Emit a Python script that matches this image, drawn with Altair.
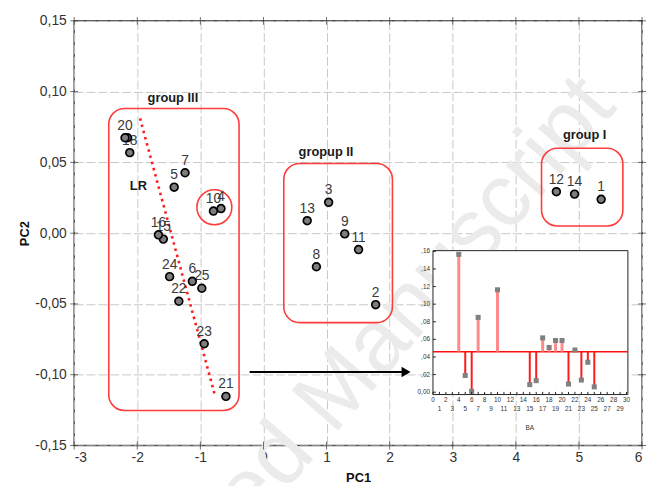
import altair as alt
import pandas as pd

# ---------------- main PCA scores ----------------
sample_ids = ["1", "2", "3", "4", "5", "6", "7", "8", "9", "10", "11", "12",
              "13", "14", "15", "16", "18", "19", "20", "21", "22", "23", "24", "25"]
# label as it can be read in the picture (the label of sample 19 is hidden under the 20 cluster)
point_labels = ["1", "2", "3", "4", "5", "6", "7", "8", "9", "10", "11", "12",
                "13", "14", "15", "16", "18", "", "20", "21", "22", "23", "24", "25"]
pc1 = [5.352, 1.778, 1.033, -0.673, -1.415, -1.127, -1.243, 0.839, 1.288, -0.793,
       1.507, 4.642, 0.693, 4.930, -1.587, -1.665, -2.119, -2.155, -2.194, -0.595,
       -1.341, -0.939, -1.487, -0.977]
pc2 = [0.0239, -0.0505, 0.0218, 0.0174, 0.0325, -0.0340, 0.0427, -0.0237, -0.0005, 0.0156,
       -0.0116, 0.0293, 0.0088, 0.0276, -0.0042, -0.0012, 0.0569, 0.0674, 0.0674, -0.1153,
       -0.0481, -0.0781, -0.0307, -0.0389]

# ---------------- annotations ----------------
group_names = ["group III", "gropup II", "group I"]
group_x1 = [-2.452, 0.322, 4.407]
group_x2 = [-0.387, 2.044, 5.696]
group_y1 = [0.0881, 0.0492, 0.0600]
group_y2 = [-0.1253, -0.0632, 0.0051]
group_label_x = [-1.435, 0.991, 5.09]
group_label_y = [0.0957, 0.0574, 0.0692]

ring_x = [-0.778]
ring_y = [0.0183]

lr_line_x = [-1.956, -0.773]
lr_line_y = [0.0811, -0.1139]
lr_text_x = [-1.983]
lr_text_y = [0.033]

arrow_x = [-0.219, 2.26]
arrow_y = [-0.0981, -0.0981]

watermark_text = ["Accepted Manuscript"]
watermark_x = [0.99]
watermark_y = [-0.1204]

x_ticks = [-3, -2, -1, 0, 1, 2, 3, 4, 5, 6]
y_ticks = [-0.15, -0.10, -0.05, 0.0, 0.05, 0.10, 0.15]

# ---------------- inset (BA) ----------------
ba_pos = [4, 5, 6, 7, 10, 15, 16, 17, 18, 19, 20, 21, 22, 23, 24, 25]
ba_val = [0.1566, 0.019, 0.001, 0.085, 0.1163, 0.0086, 0.0131, 0.0617, 0.0508, 0.0587,
          0.0587, 0.0093, 0.0479, 0.0138, 0.034, 0.006]
ba_base = 0.046
inset_x_ticks = list(range(0, 31))
inset_y_ticks = [0.0, 0.02, 0.04, 0.06, 0.08, 0.10, 0.12, 0.14, 0.16]
inset_box_x = [0.0, 30.21]
inset_box_y = [-0.0027, 0.1608]

FONT = "Liberation Sans"
W, H = 575, 430

xs = alt.Scale(domain=[-3, 6], nice=False, zero=False)
ys = alt.Scale(domain=[-0.15, 0.15], nice=False, zero=False)

xaxis = alt.Axis(
    title="PC1", values=x_ticks,
    labelExpr="(datum.value < 0 ? '-' : '') + format(abs(datum.value), 'd')",
    grid=True, gridColor="#c8c8c8", gridDash=[9, 3], gridWidth=1,
    ticks=False, domain=False, labelFont=FONT, labelFontSize=14, labelColor="#333333",
    labelPadding=5, titleFont=FONT, titleFontSize=13, titleFontWeight="bold",
    titleColor="#111111", titlePadding=7,
)
yaxis = alt.Axis(
    title="PC2", values=y_ticks,
    labelExpr="(datum.value < 0 ? '-' : '') + replace(format(abs(datum.value), '.2f'), '.', ',')",
    grid=True, gridColor="#c8c8c8", gridDash=[9, 3], gridWidth=1,
    ticks=False, domain=False, labelFont=FONT, labelFontSize=14, labelColor="#333333",
    labelPadding=8, titleFont=FONT, titleFontSize=13, titleFontWeight="bold",
    titleColor="#111111", titlePadding=3,
)


def MX(f):
    return alt.X(f, type="quantitative", scale=xs, axis=xaxis)


def MY(f):
    return alt.Y(f, type="quantitative", scale=ys, axis=yaxis)


df = pd.DataFrame({"id": sample_ids, "lab": point_labels, "pc1": pc1, "pc2": pc2})
groups = pd.DataFrame({"name": group_names, "x1": group_x1, "x2": group_x2,
                       "y1": group_y1, "y2": group_y2,
                       "lx": group_label_x, "ly": group_label_y})

watermark = alt.Chart(pd.DataFrame({"t": watermark_text, "x": watermark_x, "y": watermark_y})).mark_text(
    font=FONT, fontSize=90, color="#ebebeb", angle=311, align="center", baseline="middle"
).encode(x=MX("x"), y=MY("y"), text="t:N")

# inward frame ticks
xtk = pd.DataFrame({"v": x_ticks})
ytk = pd.DataFrame({"v": y_ticks})
tick_bottom = alt.Chart(xtk).mark_tick(orient="vertical", size=8, thickness=1, color="#333333").encode(
    x=MX("v"), y=alt.value(H))
tick_top = alt.Chart(xtk).mark_tick(orient="vertical", size=8, thickness=1, color="#333333").encode(
    x=MX("v"), y=alt.value(0))
tick_left = alt.Chart(ytk).mark_tick(orient="horizontal", size=8, thickness=1, color="#333333").encode(
    y=MY("v"), x=alt.value(0))
tick_right = alt.Chart(ytk).mark_tick(orient="horizontal", size=8, thickness=1, color="#333333").encode(
    y=MY("v"), x=alt.value(W))

group_rects = alt.Chart(groups).mark_rect(
    fillOpacity=0, stroke="#ff3b3b", strokeWidth=1.6, cornerRadius=16
).encode(x=MX("x1"), x2="x2", y=MY("y1"), y2="y2")

group_text = alt.Chart(groups).mark_text(
    font=FONT, fontSize=13, fontWeight="bold", color="#1a1a1a"
).encode(x=MX("lx"), y=MY("ly"), text="name:N")

ring = alt.Chart(pd.DataFrame({"x": ring_x, "y": ring_y})).mark_point(
    shape="circle", size=1250, filled=False, stroke="#ff3b3b", strokeWidth=1.6, opacity=1
).encode(x=MX("x"), y=MY("y"))

lr_line = alt.Chart(pd.DataFrame({"x": lr_line_x, "y": lr_line_y})).mark_line(
    color="#ff1a1a", strokeWidth=2.6, strokeDash=[2.5, 4]
).encode(x=MX("x"), y=MY("y"))

lr_text = alt.Chart(pd.DataFrame({"x": lr_text_x, "y": lr_text_y, "t": ["LR"]})).mark_text(
    font=FONT, fontSize=13, fontWeight="bold", color="#1a1a1a"
).encode(x=MX("x"), y=MY("y"), text="t:N")

arrow_line = alt.Chart(pd.DataFrame({"x": arrow_x[:1], "x2": arrow_x[1:], "y": arrow_y[:1]})).mark_rule(
    color="#000000", strokeWidth=2
).encode(x=MX("x"), x2="x2", y=MY("y"))

arrow_head = alt.Chart(pd.DataFrame({"x": arrow_x[1:], "y": arrow_y[1:]})).mark_point(
    shape="triangle-right", size=110, filled=True, color="#000000", opacity=1
).encode(x=MX("x"), y=MY("y"))

labels = alt.Chart(df).mark_text(
    font=FONT, fontSize=14, color="#3a3a3a", baseline="alphabetic", dy=-8
).encode(x=MX("pc1"), y=MY("pc2"), text="lab:N")

points = alt.Chart(df).mark_circle(
    size=62, color="#7d7d7d", opacity=1, stroke="#000000", strokeWidth=1.7
).encode(x=MX("pc1"), y=MY("pc2"), tooltip=["id:N"])

main = alt.layer(watermark, tick_bottom, tick_top, tick_left, tick_right,
                 group_rects, lr_line, ring, arrow_line, arrow_head,
                 labels, points, group_text, lr_text)

# ---------------- inset ----------------
xi = alt.Scale(domain=[0, 30], range=[363.3, 559.3], nice=False, zero=False)
yi = alt.Scale(domain=[0, 0.16], range=[376.0, 233.4], nice=False, zero=False)


def IX(f):
    return alt.X(f, type="quantitative", scale=xi, axis=None)


def IY(f):
    return alt.Y(f, type="quantitative", scale=yi, axis=None)


ba = pd.DataFrame({"pos": ba_pos, "val": ba_val})
ba["base"] = ba_base
ba_up = ba[ba["val"] >= ba_base]
ba_down = ba[ba["val"] < ba_base]

box = alt.Chart(pd.DataFrame({"x1": inset_box_x[:1], "x2": inset_box_x[1:],
                              "y1": inset_box_y[:1], "y2": inset_box_y[1:]})).mark_rect(
    fill="#ffffff", stroke="#222222", strokeWidth=1
).encode(x=IX("x1"), x2="x2", y=IY("y1"), y2="y2")

baseline = alt.Chart(pd.DataFrame({"x1": inset_box_x[:1], "x2": inset_box_x[1:], "b": [ba_base]})).mark_rule(
    color="#ff1010", strokeWidth=1.4
).encode(x=IX("x1"), x2="x2", y=IY("b"))

stems_up = alt.Chart(ba_up).mark_rule(color="#ff8a8a", strokeWidth=3).encode(
    x=IX("pos"), y=IY("base"), y2="val")
stems_down = alt.Chart(ba_down).mark_rule(color="#ff1a1a", strokeWidth=2).encode(
    x=IX("pos"), y=IY("base"), y2="val")
dots = alt.Chart(ba).mark_square(size=26, color="#808080", opacity=1).encode(
    x=IX("pos"), y=IY("val"))

xt = pd.DataFrame({"v": inset_x_ticks})
xt["y0"] = inset_box_y[0]
xt["y1"] = inset_box_y[0] + 0.003
xt["lab"] = xt["v"].astype(str)
xt_even = xt[xt["v"] % 2 == 0]
xt_odd = xt[xt["v"] % 2 == 1]

yt = pd.DataFrame({"v": inset_y_ticks})
yt["x0"] = inset_box_x[0]
yt["x1"] = inset_box_x[0] + 0.45
yt["lab"] = ["0,00" if v == 0 else "," + f"{v:.2f}".split(".")[1] for v in inset_y_ticks]

x_tick_marks = alt.Chart(xt).mark_rule(color="#222222", strokeWidth=1).encode(
    x=IX("v"), y=IY("y0"), y2="y1")
y_tick_marks = alt.Chart(yt).mark_rule(color="#222222", strokeWidth=1).encode(
    x=IX("x0"), x2="x1", y=IY("v"))

x_lab_even = alt.Chart(xt_even).mark_text(font=FONT, fontSize=6.5, color="#333333",
                                          baseline="top", dy=3).encode(
    x=IX("v"), y=IY("y0"), text="lab:N")
x_lab_odd = alt.Chart(xt_odd).mark_text(font=FONT, fontSize=6.5, color="#333333",
                                        baseline="top", dy=12).encode(
    x=IX("v"), y=IY("y0"), text="lab:N")
y_lab = alt.Chart(yt).mark_text(font=FONT, fontSize=6.5, color="#333333",
                                align="right", baseline="middle", dx=-3).encode(
    x=IX("x0"), y=IY("v"), text="lab:N")

ba_title = alt.Chart(pd.DataFrame({"x": [15], "y": inset_box_y[:1], "t": ["BA"]})).mark_text(
    font=FONT, fontSize=6.5, color="#333333", baseline="top", dy=31
).encode(x=IX("x"), y=IY("y"), text="t:N")

inset = alt.layer(box, baseline, stems_up, stems_down, dots, x_tick_marks, y_tick_marks,
                  x_lab_even, x_lab_odd, y_lab, ba_title)

chart = alt.layer(main, inset).resolve_scale(
    x="independent", y="independent"
).properties(
    width=W, height=H,
    autosize=alt.AutoSizeParams(type="none"),
    padding={"left": 67, "top": 10, "right": 4, "bottom": 38},
    background="#ffffff",
).configure_view(stroke="#4d4d4d", strokeWidth=1.5)

chart.save("out.html", embed_options={"renderer": "svg", "actions": False})
